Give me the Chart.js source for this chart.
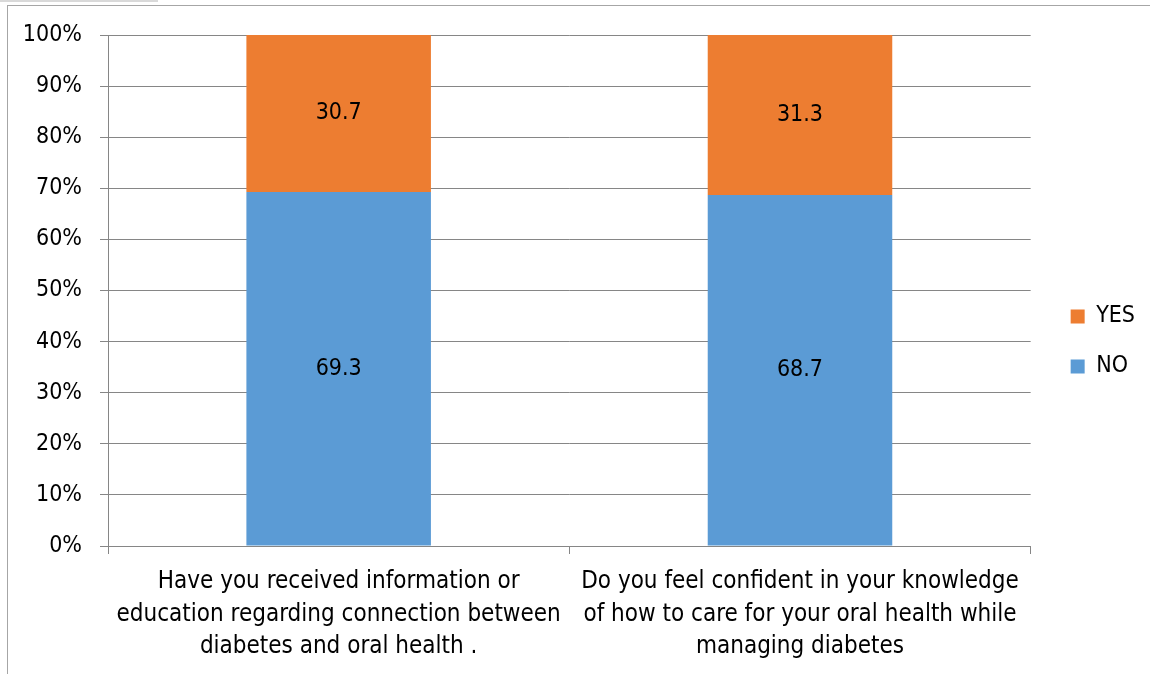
<!DOCTYPE html>
<html>
<head>
<meta charset="utf-8">
<script src="https://cdn.jsdelivr.net/npm/chart.js@4"></script>
<style>
    body { margin: 0; background: #fff; }
    #wrap { position: relative; width: 1150px; height: 674px; overflow: hidden; }
    #strip { position: absolute; left: 0; top: 0; width: 158px; height: 2px; background: #d9d9d9; }
    #frame { position: absolute; left: 7px; top: 5px; width: 1200px; height: 700px; border-top: 1px solid #a6a6a6; border-left: 1px solid #a6a6a6; }
    canvas { position: absolute; left: 0; top: 0; }
</style>
</head>
<body>
<div id="wrap">
    <div id="strip"></div>
    <div id="frame"></div>
    <canvas id="chart" width="1150" height="674"></canvas>
</div>
<script>
// Data
const categories = [
    ['Have you received information or', 'education regarding connection between', 'diabetes and oral health .'],
    ['Do you feel confident in your knowledge', 'of how to care for your oral health while', 'managing diabetes']
];
const noValues = [69.3, 68.7];
const yesValues = [30.7, 31.3];
const yTicks = [0, 10, 20, 30, 40, 50, 60, 70, 80, 90, 100];

const FONT = "'Liberation Sans Narrow', 'DejaVu Sans Condensed', 'Noto Sans', sans-serif";
const SIZE = 23;
const GRID = '#868686';

// Draw the value inside each bar segment
const segmentLabels = {
    id: 'segmentLabels',
    afterDatasetsDraw(chart) {
        const ctx = chart.ctx;
        ctx.save();
        ctx.font = SIZE + 'px ' + FONT;
        ctx.fillStyle = '#000';
        ctx.textAlign = 'center';
        ctx.textBaseline = 'middle';
        chart.data.datasets.forEach((ds, i) => {
            chart.getDatasetMeta(i).data.forEach((bar, j) => {
                const mid = (bar.y + bar.base) / 2;
                ctx.fillText(ds.data[j].toFixed(1), bar.x, mid);
            });
        });
        ctx.restore();
    }
};

// nudge the legend a bit right and up, like the original
const legendNudge = {
    id: 'legendNudge',
    afterLayout(chart) {
        const lg = chart.legend;
        lg.left += 13; lg.right += 13;
        lg.top -= 13; lg.bottom -= 13;
    }
};

new Chart(document.getElementById('chart'), {
    type: 'bar',
    data: {
        labels: categories,
        datasets: [
            { label: 'NO', data: noValues, backgroundColor: '#5b9bd5', barPercentage: 0.4, categoryPercentage: 1 },
            { label: 'YES', data: yesValues, backgroundColor: '#ed7d31', barPercentage: 0.4, categoryPercentage: 1 }
        ]
    },
    options: {
        responsive: false,
        animation: false,
        layout: { padding: { left: 8, top: 35, right: 18, bottom: 0 } },
        plugins: {
            legend: {
                position: 'right',
                reverse: true,
                labels: {
                    font: { family: FONT, size: SIZE },
                    color: '#000',
                    boxWidth: 14,
                    boxHeight: 14,
                    padding: 27
                }
            },
            tooltip: { enabled: false }
        },
        scales: {
            x: {
                stacked: true,
                grid: { drawOnChartArea: false, drawTicks: true, tickLength: 8, color: GRID, offset: true },
                border: { color: GRID },
                ticks: { font: { family: FONT, size: 24, lineHeight: 32.5 / 24 }, color: '#000', padding: 12, maxRotation: 0 },
                afterFit: s => { s.height = 128; }
            },
            y: {
                stacked: true,
                min: 0,
                max: 100,
                afterBuildTicks: s => { s.ticks = yTicks.map(v => ({ value: v })); },
                grid: { color: GRID, tickLength: 8 },
                border: { color: GRID },
                ticks: { font: { family: FONT, size: SIZE }, color: '#000', padding: 18, callback: v => v + '%' },
                afterFit: s => { s.width = 100; }
            }
        }
    },
    plugins: [segmentLabels, legendNudge]
});
</script>
</body>
</html>
